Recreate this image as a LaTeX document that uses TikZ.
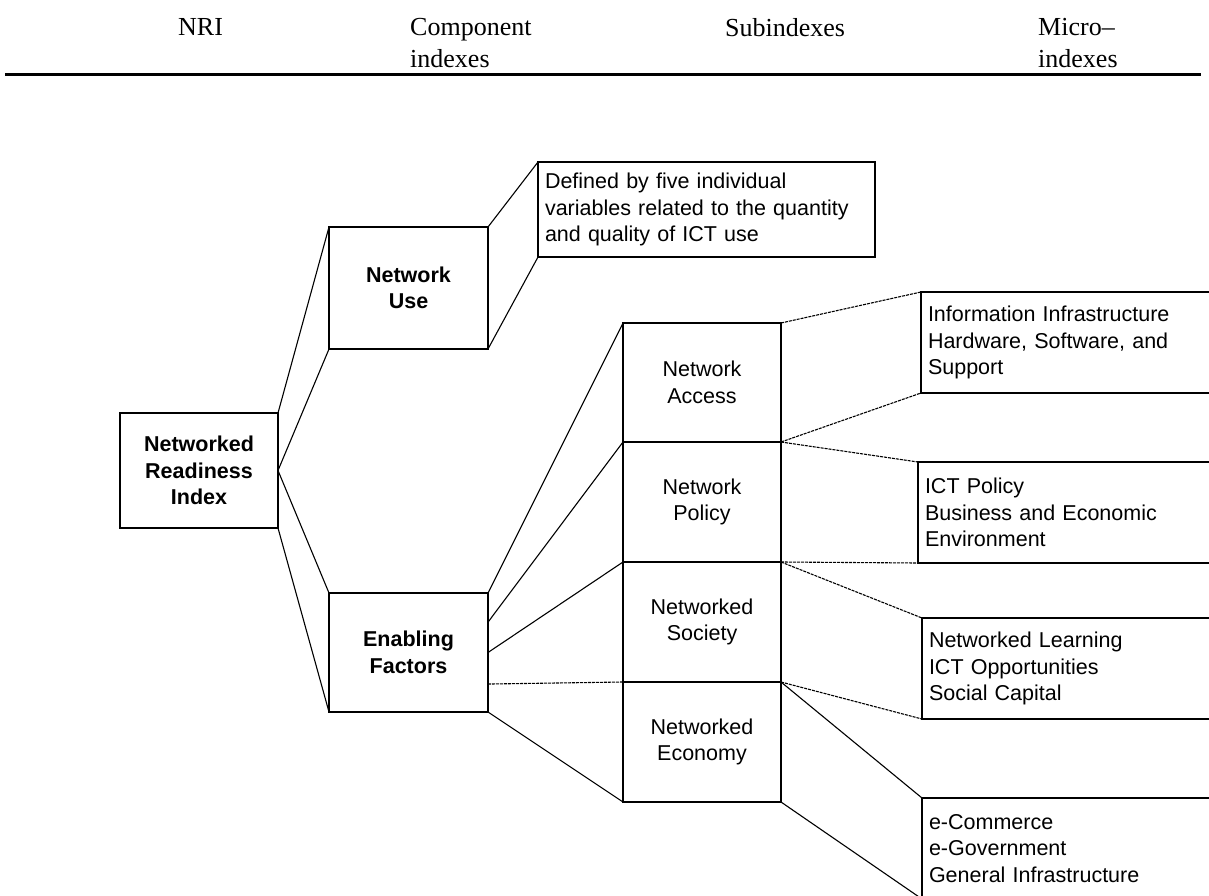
\documentclass[tikz,border=0pt]{standalone}
\usepackage{fontspec}
\setmainfont{Liberation Sans}
\newfontfamily\hdrfont{Liberation Serif}
\usetikzlibrary{calc}
\begin{document}
\begin{tikzpicture}[x=1pt,y=-1pt,
  sbox/.style={draw, line width=1.8pt, inner sep=0pt, outer sep=0pt, align=center,
    font=\fontsize{21.5}{26.5}\selectfont},
  mbox/.style={draw, line width=1.6pt, anchor=north west, inner xsep=7pt, inner ysep=0pt,
    outer sep=0pt, align=left, font=\fontsize{21.5}{26.5}\selectfont},
  hdr/.style={anchor=north west, inner sep=0pt, align=left,
    font=\hdrfont\fontsize{26}{32}\selectfont},
  conn/.style={line width=1.1pt},
  fine/.style={dash pattern=on 3pt off 1pt}]
\useasboundingbox (0,0) rectangle (1209,896);

% header
\node[hdr] (hnri) at (178,18.5) {NRI};
\node[hdr] (hcomp) at (410,18.5) {Component\\indexes};
\node[hdr] (hsub) at (725,18.5) {Subindexes};
\node[hdr] (hmicro) at (1038,18.5) {Micro–\\indexes};
\draw[line width=3.5pt] (5,74.3) -- (1201,74.3);

% main boxes
\node[sbox, minimum width=158pt, minimum height=115pt] (nri) at (199,470.5)
  {\bfseries Networked\\\bfseries Readiness\\\bfseries Index};
\node[sbox, minimum width=159pt, minimum height=122pt] (nu) at (408.5,288)
  {\bfseries Network\\\bfseries Use};
\node[sbox, minimum width=159pt, minimum height=119pt] (ef) at (408.5,652.5)
  {\bfseries Enabling\\\bfseries Factors};
\node[mbox, text width=323pt, minimum height=95pt] (def) at (538,162)
  {Defined by five individual\\variables related to the quantity\\and quality of ICT use};

% subindexes
\node[sbox, minimum width=158pt, minimum height=119pt] (acc) at (702,382.5) {Network\\Access};
\node[sbox, minimum width=158pt, minimum height=120pt] (pol) at (702,502) {Network\\Policy};
\node[sbox, minimum width=158pt, minimum height=120pt] (soc) at (702,622) {Networked\\Society};
\node[sbox, minimum width=158pt, minimum height=120pt] (eco) at (702,742) {Networked\\Economy};

% micro-indexes
\node[mbox, text width=296pt, minimum height=101pt] (info) at (921,292)
  {Information Infrastructure\\Hardware, Software, and\\Support};
\node[mbox, text width=296pt, minimum height=101pt] (ict) at (918,462)
  {ICT Policy\\Business and Economic\\Environment};
\node[mbox, text width=296pt, minimum height=101pt] (nl) at (922,618)
  {Networked Learning\\ICT Opportunities\\Social Capital};
\node[mbox, text width=296pt, minimum height=101pt] (ec) at (922,798)
  {e-Commerce\\e-Government\\General Infrastructure};

% connectors
\draw[conn] (nri.north east) -- (nu.north west);
\draw[conn] (nri.east) -- (nu.south west);
\draw[conn] (nri.east) -- (ef.north west);
\draw[conn] (nri.south east) -- (ef.south west);
\draw[conn] (nu.north east) -- (def.north west);
\draw[conn] (nu.south east) -- (def.south west);

\draw[conn] (ef.north east) -- (acc.north west);
\draw[conn] ($(ef.north east)!0.245!(ef.south east)$) -- (pol.north west);
\draw[conn] (ef.east) -- (soc.north west);
\draw[conn, fine] ($(ef.north east)!0.765!(ef.south east)$) -- (eco.north west);
\draw[conn] (ef.south east) -- (eco.south west);

\draw[conn, fine] (acc.north east) -- (info.north west);
\draw[conn, fine] (acc.south east) -- (info.south west);
\draw[conn, fine] (pol.north east) -- (ict.north west);
\draw[conn, fine] (pol.south east) -- (ict.south west);
\draw[conn, fine] (soc.north east) -- (nl.north west);
\draw[conn, fine] (eco.north east) -- (nl.south west);
\draw[conn] (eco.north east) -- (ec.north west);
\draw[conn] (eco.south east) -- (ec.south west);
\end{tikzpicture}
\end{document}
